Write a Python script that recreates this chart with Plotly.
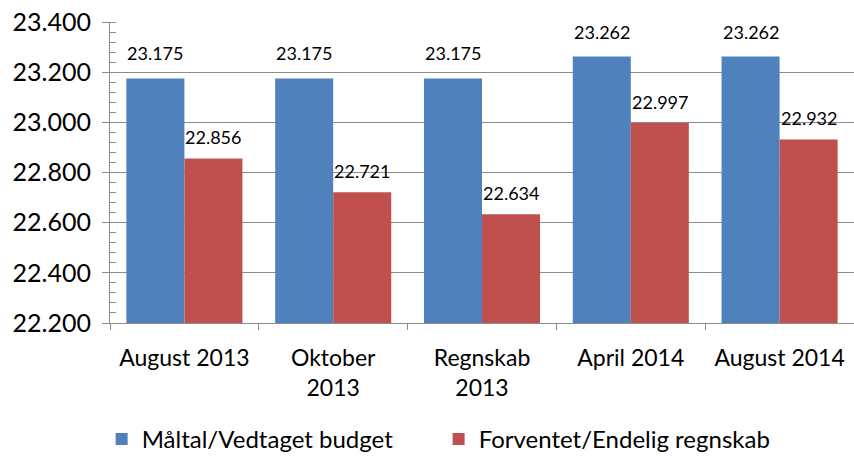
import plotly.graph_objects as go

categories = ["August 2013", "Oktober<br>2013", "Regnskab<br>2013", "April 2014", "August 2014"]
budget = [23175, 23175, 23175, 23262, 23262]
regnskab = [22856, 22721, 22634, 22997, 22932]
series_names = ["Måltal/Vedtaget budget", "Forventet/Endelig regnskab"]
y_ticks = [22200, 22400, 22600, 22800, 23000, 23200, 23400]

FONT = "Lato"
COLORS = ["#4F81BD", "#C0504D"]
fig = go.Figure()
for name, vals, col in [(series_names[0], budget, COLORS[0]), (series_names[1], regnskab, COLORS[1])]:
    fig.add_trace(go.Bar(
        x=categories, y=vals, name=name, marker=dict(color=col, line=dict(width=0)),
        cliponaxis=False,
    ))

def fmt(v):
    return f"{v:,}".replace(",", ".")

# data labels above each bar (half a bar width left/right of the category centre)
for vals, xs, ys in [(budget, -29, 12), (regnskab, 29, 8)]:
    for c, v in zip(categories, vals):
        fig.add_annotation(x=c, y=v, text=fmt(v), showarrow=False, xshift=xs, yshift=ys,
                           yanchor="bottom", font=dict(size=18, family=FONT, color="black"))

fig.update_layout(
    width=854, height=456, barmode="group", bargap=0.22, bargroupgap=0,
    separators=",.",
    paper_bgcolor="white", plot_bgcolor="white",
    margin=dict(l=110, r=0, t=22, b=133),
    font=dict(family=FONT, color="black"),
    showlegend=True,
    legend=dict(orientation="h", xref="container", x=0.119, xanchor="left",
                yref="container", y=0.086, yanchor="top",
                font=dict(size=24, family=FONT), itemwidth=30, traceorder="normal",
                entrywidth=292),
    yaxis=dict(range=[22200, 23400], tickvals=y_ticks, tickformat=",d", automargin=False,
               tickfont=dict(size=25, family=FONT), showgrid=True, gridcolor="#8c8c8c", gridwidth=1,
               showline=True, linecolor="#8c8c8c", linewidth=1, ticks="outside", ticklen=7,
               tickcolor="#8c8c8c", ticklabelstandoff=6,
               minor=dict(dtick=40, ticks="inside", ticklen=6, tickcolor="#8c8c8c", showgrid=False),
               zeroline=False),
    xaxis=dict(showline=True, linecolor="#8c8c8c", linewidth=1, ticks="outside", ticklen=6,
               automargin=False,
               tickcolor="#8c8c8c", tickson="boundaries", tickfont=dict(size=23, family=FONT),
               ticklabelstandoff=14, showgrid=False),
)
fig.write_html("out.html", config={"displayModeBar": False},
               post_script="document.body.style.margin='0';")
